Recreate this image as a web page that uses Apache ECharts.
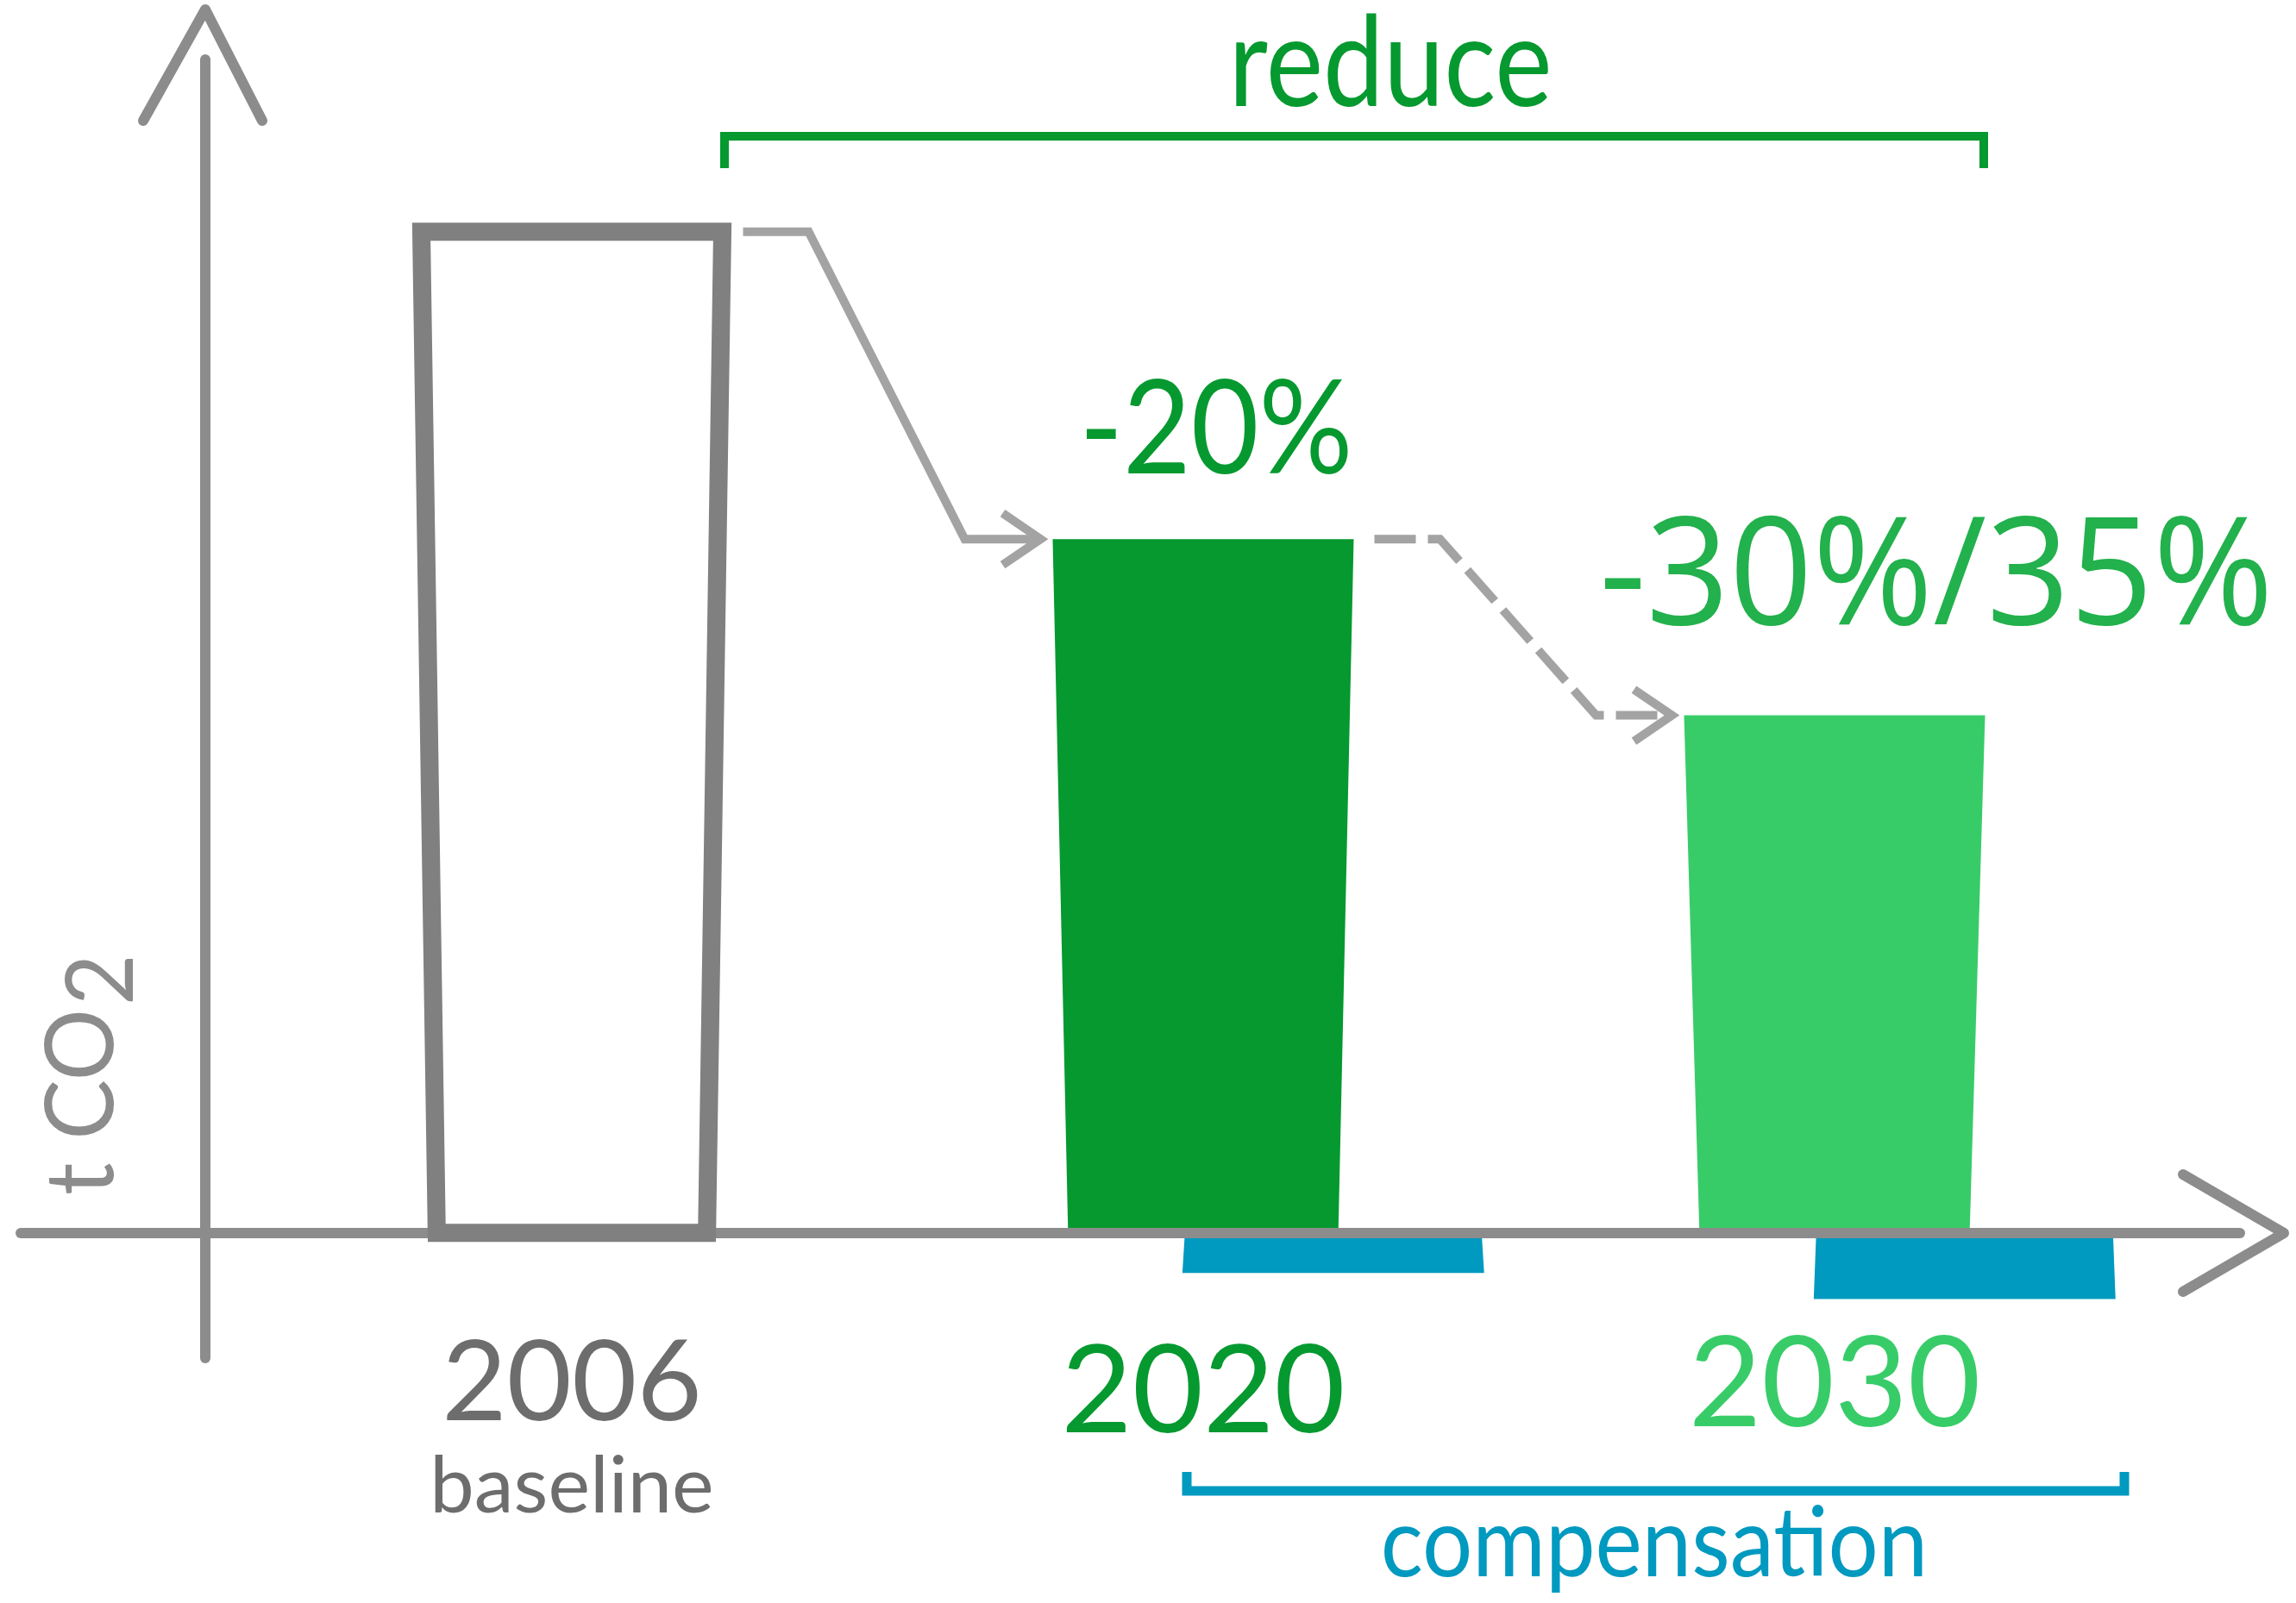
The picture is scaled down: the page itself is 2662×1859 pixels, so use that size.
<!DOCTYPE html>
<html>
<head>
<meta charset="utf-8">
<script src="https://cdn.jsdelivr.net/npm/echarts@6/dist/echarts.min.js"></script>
<style>
html,body{margin:0;padding:0;background:#ffffff;overflow:hidden;}
#chart{width:2662px;height:1859px;}
</style>
</head>
<body>
<div id="chart"></div>
<script>
// ---- data ----
const categories = ['2006', '2020', '2030'];
const subLabels = ['baseline', '', ''];
const emissions = [100, 69.3, 51.7];          // t CO2 (relative, baseline = 100)
const compensation = [0, -4.0, -6.6];         // compensated share shown below the axis
const reductionLabels = ['', '-20%', '-30%/35%'];
const axisTitle = ['t CO', '2'];
const reduceTitle = 'reduce';
const compensationTitle = 'compensation';

// ---- styles ----
const C_AXIS = '#8C8C8C';
const C_OUTLINE = '#808080';
const C_CONN = '#A3A3A3';
const C_DARK = '#05992F';
const C_LIGHT = '#38CC69';
const C_PCT2 = '#22B14C';
const C_BLUE = '#0099BF';
const C_GRAYTXT = '#6D6D6D';
const barColors = [null, C_DARK, C_LIGHT];
const TOP_HALF = 0.2384, BOT_HALF = 0.2140;
const COMP_TOP_HALF = 0.235, COMP_BOT_HALF = 0.239, COMP_SHIFT = 0.206;

const chart = echarts.init(document.getElementById('chart'), null, {renderer: 'canvas'});

function trapezoid(api, idx, vTop, vBot, topHalf, botHalf, shift) {
  const band = api.size([1, 0])[0];
  const pt = api.coord([idx, vTop]);
  const pb = api.coord([idx, vBot]);
  const cx = pt[0] + shift * band;
  return [
    [cx - topHalf * band, pt[1]],
    [cx + topHalf * band, pt[1]],
    [cx + botHalf * band, pb[1]],
    [cx - botHalf * band, pb[1]]
  ];
}

const baselineData = [[0, emissions[0]]];
const filledData = emissions.map((v, i) => [i, v]).slice(1);
const compData = compensation.map((v, i) => [i, v]).filter(d => d[1] !== 0);
const connData = emissions.map((v, i) => [i, v]).slice(1);

const option = {
  backgroundColor: '#ffffff',
  animation: false,
  textStyle: {fontFamily: 'Lato'},
  grid: {left: 297, right: 169, top: 69, bottom: 284, containLabel: false, outerBoundsMode: 'none'},
  xAxis: {
    type: 'category',
    data: categories,
    axisLine: {show: false, onZero: false},
    axisTick: {show: false},
    splitLine: {show: false},
    axisLabel: {
      interval: 0,
      margin: -35,
      formatter: function (value, index) {
        const sub = subLabels[index];
        return '{y' + index + '|' + value + '}' + (sub ? '\n{s|' + sub + '}' : '');
      },
      rich: {
        y0: {fontFamily: 'Lato', fontSize: 130, lineHeight: 130, color: C_GRAYTXT, align: 'center'},
        y1: {fontFamily: 'Lato', fontSize: 142, lineHeight: 150, color: C_DARK, align: 'center'},
        y2: {fontFamily: 'Lato', fontSize: 146, lineHeight: 133, color: C_LIGHT, align: 'center'},
        s: {fontFamily: 'Lato', fontSize: 92, lineHeight: 109, color: C_GRAYTXT, align: 'center'}
      }
    }
  },
  yAxis: {
    type: 'value',
    min: -12.5,
    max: 117.2,
    offset: 59,
    axisLine: {show: true, lineStyle: {color: C_AXIS, width: 12, cap: 'round'}},
    axisTick: {show: false},
    axisLabel: {show: false},
    splitLine: {show: false}
  },
  series: [
    {
      name: 'baseline', type: 'custom', z: 5,
      encode: {x: 0, y: 1},
      data: baselineData,
      renderItem: function (params, api) {
        const pts = trapezoid(api, api.value(0), api.value(1), 0, TOP_HALF, BOT_HALF, 0);
        return {type: 'polygon', shape: {points: pts},
          style: {fill: 'none', stroke: C_OUTLINE, lineWidth: 21, lineJoin: 'miter'}};
      }
    },
    {
      name: 'emissions', type: 'custom', z: 2,
      encode: {x: 0, y: 1},
      data: filledData,
      renderItem: function (params, api) {
        const i = api.value(0);
        const pts = trapezoid(api, i, api.value(1), 0, TOP_HALF, BOT_HALF, 0);
        return {type: 'polygon', shape: {points: pts}, style: {fill: barColors[i]}};
      }
    },
    {
      name: 'compensation', type: 'custom', z: 2,
      encode: {x: 0, y: 1},
      data: compData,
      renderItem: function (params, api) {
        const pts = trapezoid(api, api.value(0), 0, api.value(1), COMP_TOP_HALF, COMP_BOT_HALF, COMP_SHIFT);
        return {type: 'polygon', shape: {points: pts}, style: {fill: C_BLUE}};
      }
    },
    {
      name: 'connectors', type: 'custom', z: 3,
      encode: {x: 0, y: 1},
      data: connData,
      renderItem: function (params, api) {
        const i = api.value(0);
        const band = api.size([1, 0])[0];
        const prev = api.coord([i - 1, emissions[i - 1]]);
        const cur = api.coord([i, api.value(1)]);
        const x0 = prev[0] + TOP_HALF * band + 24;
        const x1 = x0 + 76;
        const xe = cur[0] - TOP_HALF * band - 14;
        const x2 = xe - 88;
        const dashed = i > 1;
        return {
          type: 'group',
          children: [
            {type: 'polyline',
             shape: {points: [[x0, prev[1]], [x1, prev[1]], [x2, cur[1]], [xe - 4, cur[1]]]},
             style: {fill: null, stroke: C_CONN, lineWidth: 10, lineJoin: 'miter',
                     lineDash: dashed ? [48, 14] : null}},
            {type: 'polyline',
             shape: {points: [[xe - 44, cur[1] - 30], [xe, cur[1]], [xe - 44, cur[1] + 30]]},
             style: {fill: null, stroke: C_CONN, lineWidth: 10, lineJoin: 'miter'}}
          ]
        };
      }
    }
  ],
  graphic: [
    // x axis line and arrowheads
    {type: 'polyline', z: 4, shape: {points: [[24, 1430], [2597, 1430]]},
     style: {stroke: C_AXIS, lineWidth: 12, lineCap: 'round', fill: null}},
    {type: 'polyline', z: 4, shape: {points: [[2531, 1362], [2648, 1430], [2531, 1498]]},
     style: {stroke: C_AXIS, lineWidth: 12, lineCap: 'round', lineJoin: 'round', fill: null}},
    {type: 'polyline', z: 4, shape: {points: [[166, 140], [238, 11], [304, 140]]},
     style: {stroke: C_AXIS, lineWidth: 12, lineCap: 'round', lineJoin: 'round', fill: null}},
    // brackets
    {type: 'polyline', z: 4, shape: {points: [[840, 195], [840, 158], [2300, 158], [2300, 195]]},
     style: {stroke: C_DARK, lineWidth: 10, lineJoin: 'miter', fill: null}},
    {type: 'polyline', z: 4, shape: {points: [[1376, 1707], [1376, 1729], [2463, 1729], [2463, 1707]]},
     style: {stroke: C_BLUE, lineWidth: 11, lineJoin: 'miter', fill: null}},
    // texts
    {type: 'text', z: 6, x: 1612, y: 76, scaleX: 0.86,
     style: {text: reduceTitle, fontFamily: 'Lato', fontSize: 146, fill: C_DARK, align: 'center', verticalAlign: 'middle'}},
    {type: 'text', z: 6, x: 1410, y: 500, scaleX: 0.9,
     style: {text: reductionLabels[1], fontFamily: 'Lato', fontSize: 151, fill: C_DARK, align: 'center', verticalAlign: 'middle'}},
    {type: 'text', z: 6, x: 2245, y: 674, scaleX: 0.965,
     style: {text: reductionLabels[2], fontFamily: 'Open Sans', fontSize: 175, fill: C_PCT2, align: 'center', verticalAlign: 'middle'}},
    {type: 'text', z: 6, x: 1918, y: 1792, scaleX: 0.91,
     style: {text: compensationTitle, fontFamily: 'Lato', fontSize: 113, fill: C_BLUE, align: 'center', verticalAlign: 'middle'}},
    {type: 'text', z: 6, x: 96, y: 1386, rotation: Math.PI / 2, scaleX: 0.95,
     style: {text: axisTitle[0], fontFamily: 'Lato', fontSize: 110, fill: C_AXIS, align: 'left', verticalAlign: 'middle'}},
    {type: 'text', z: 6, x: 119, y: 1166, rotation: Math.PI / 2, scaleX: 0.95,
     style: {text: axisTitle[1], fontFamily: 'Lato', fontSize: 108, fill: C_AXIS, align: 'left', verticalAlign: 'middle'}}
  ]
};
chart.setOption(option);
</script>
</body>
</html>
